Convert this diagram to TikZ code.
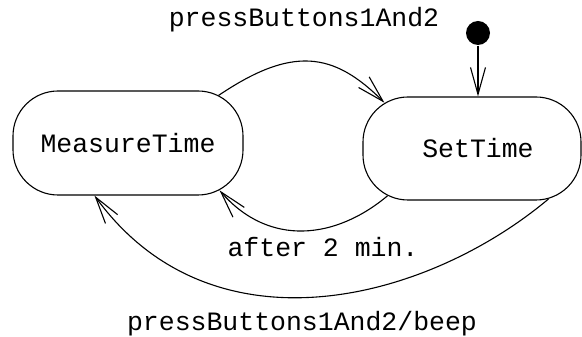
\documentclass[tikz,border=0pt]{standalone}
\usepackage{fontspec}
\setmainfont{Liberation Mono}
\usetikzlibrary{arrows.meta,calc}
\begin{document}
\begin{tikzpicture}[x=1pt,y=1pt,line width=1.1pt,
  txt/.style={font=\fontsize{26.5}{30}\selectfont},
  state/.style={draw,rounded corners=45pt,inner sep=0pt,txt},
  lbl/.style={txt,inner sep=0pt,anchor=base},
  trans/.style={-{Straight Barb[length=27pt,width=15pt]}}]
\useasboundingbox (0,0) rectangle (582,337);
\node[state,minimum width=230pt,minimum height=104pt] (mt) at (128,194) {MeasureTime};
\node[state,minimum width=218pt,minimum height=103pt] (st) at (472,188.5) {\hspace*{12pt}SetTime};
\node[circle,fill,inner sep=0pt,minimum size=24pt] (init) at (478,304) {};
\coordinate (stTop) at (init |- st.north);
\draw[trans] (init) -- (stTop);
% anchor points on the borders
\coordinate (a1) at ($(mt.north east)+(-25,-5)$);
\coordinate (a2) at ($(st.north west)+(22,-6.3)$);
\coordinate (b1) at ($(st.south west)+(25,4.7)$);
\coordinate (b2) at ($(mt.south east)+(-24,5.2)$);
\coordinate (c1) at ($(st.south east)+(-33,1.6)$);
\coordinate (c2) at ($(mt.south west)+(82,0)$);
\draw[trans] (a1) to[out=34,in=135,out distance=89pt,in distance=72pt] (a2);
\draw[trans] (b1) to[out=220,in=311,out distance=67pt,in distance=76pt] (b2);
\draw[trans] (c1) to[out=220,in=306,out distance=160pt,in distance=200pt] (c2);
\node[lbl] (l1) at (304,310) {pressButtons1And2};
\node[lbl] (l2) at (323,80) {after 2 min.};
\node[lbl] (l3) at (302,6) {pressButtons1And2/beep};
\end{tikzpicture}
\end{document}
